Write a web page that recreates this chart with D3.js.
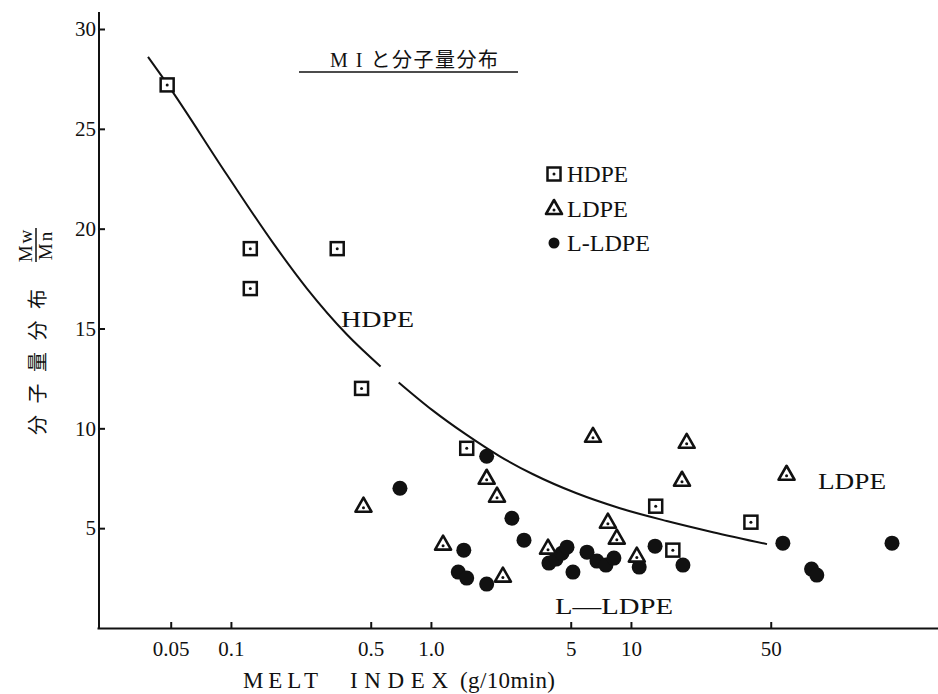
<!DOCTYPE html>
<html>
<head>
<meta charset="utf-8">
<script src="https://cdn.jsdelivr.net/npm/d3@7"></script>
<style>
  body { margin: 0; background: #fff; }
  svg text { font-family: "Liberation Serif", "DejaVu Serif", "Noto Sans CJK JP", serif; fill: #111; }
  .cjk { font-family: "Noto Sans CJK JP", "Noto Sans CJK SC", sans-serif; }
</style>
</head>
<body>
<svg id="chart" width="938" height="694"></svg>
<script>
// melt index (g/10min) and Mw/Mn
var hdpeMI   = [0.048, 0.125, 0.125, 0.34, 0.45, 1.51, 13.3, 16.2, 39.8];
var hdpeMwMn = [27.2, 19.0, 17.0, 19.0, 12.0, 9.0, 6.1, 3.9, 5.3];

var ldpeMI   = [0.46, 1.15, 1.9, 2.14, 2.29, 3.85, 6.46, 7.67, 8.5, 10.7, 19.0, 18.0, 60];
var ldpeMwMn = [6.1, 4.2, 7.5, 6.6, 2.6, 4.0, 9.6, 5.3, 4.5, 3.6, 9.3, 7.4, 7.7];

var lldpeMI   = [0.70, 1.9, 2.54, 2.92, 1.46, 1.37, 1.51, 1.9, 3.89, 4.22, 4.52, 4.79, 5.13,
                 6.03, 6.76, 7.5, 8.22, 11.0, 13.2, 18.2, 57.5, 80, 85, 202];
var lldpeMwMn = [7.0, 8.6, 5.5, 4.4, 3.9, 2.8, 2.5, 2.2, 3.25, 3.45, 3.75, 4.05, 2.8,
                 3.8, 3.35, 3.15, 3.5, 3.05, 4.1, 3.15, 4.25, 2.95, 2.65, 4.25];

// the hand drawn trend line (two pieces, broken near MI 0.6)
var curveMI1 = [0.0385, 0.048, 0.0955, 0.162, 0.24, 0.38, 0.56];
var curveY1  = [28.6, 27.25, 22.7, 19.3, 17.0, 14.7, 13.1];
var curveMI2 = [0.69, 1.02, 1.51, 2.21, 3.24, 5.31, 8.81, 15.1, 25.7, 47.9];
var curveY2  = [12.3, 10.9, 9.67, 8.6, 7.7, 6.76, 6.0, 5.36, 4.8, 4.2];

var xTickValues = [0.05, 0.1, 0.5, 1, 5, 10, 50];
var xTickLabels = ["0.05", "0.1", "0.5", "1.0", "5", "10", "50"];
var yTickValues = [5, 10, 15, 20, 25, 30];

var svg = d3.select("#chart");

var x = d3.scaleLog().domain([0.0214, 343]).range([97, 938]);
var y = d3.scaleLinear().domain([0, 30]).range([628, 29]);

// axes
var xAxis = d3.axisBottom(x)
    .tickValues(xTickValues)
    .tickFormat(function (d, i) { return xTickLabels[i]; })
    .tickSizeInner(-6).tickSizeOuter(0).tickPadding(13);
var gx = svg.append("g").attr("transform", "translate(0,628)").call(xAxis);
gx.select(".domain").attr("stroke", "#111").attr("stroke-width", 2);
gx.selectAll(".tick line").attr("stroke", "#111").attr("stroke-width", 2);
gx.selectAll(".tick text").attr("font-size", 21).attr("fill", "#111")
    .style("font-family", "Liberation Serif");

var yAxis = d3.axisLeft(y)
    .tickValues(yTickValues)
    .tickSizeInner(-6).tickSizeOuter(0).tickPadding(3);
var gy = svg.append("g").attr("transform", "translate(99,0)").call(yAxis);
gy.select(".domain").remove();
gy.append("line").attr("x1", 0).attr("x2", 0).attr("y1", 12).attr("y2", 629)
    .attr("stroke", "#111").attr("stroke-width", 2);
gy.selectAll(".tick line").attr("stroke", "#111").attr("stroke-width", 2);
gy.selectAll(".tick text").attr("font-size", 21).attr("fill", "#111")
    .style("font-family", "Liberation Serif");

// trend line
var line = d3.line()
    .x(function (d) { return x(d[0]); })
    .y(function (d) { return y(d[1]); })
    .curve(d3.curveMonotoneX);

[[curveMI1, curveY1], [curveMI2, curveY2]].forEach(function (c) {
    svg.append("path")
        .datum(d3.zip(c[0], c[1]))
        .attr("d", line)
        .attr("fill", "none")
        .attr("stroke", "#111")
        .attr("stroke-width", 2);
});

// marker drawing
function drawSquare(g) {
    g.append("rect").attr("x", -6.5).attr("y", -6.5).attr("width", 13).attr("height", 13)
        .attr("fill", "#fff").attr("stroke", "#111").attr("stroke-width", 2.5);
    g.append("circle").attr("r", 1.5).attr("fill", "#111");
}
function drawTriangle(g) {
    g.append("path").attr("d", "M0,-8.5L8,5.5L-8,5.5Z")
        .attr("fill", "#fff").attr("stroke", "#111").attr("stroke-width", 2.6)
        .attr("stroke-linejoin", "round");
    g.append("circle").attr("cy", 1.5).attr("r", 1.5).attr("fill", "#111");
}
function drawDot(g) {
    g.append("circle").attr("r", 7.5).attr("fill", "#111");
}

function plot(xs, ys, drawer) {
    svg.append("g").selectAll("g")
        .data(d3.zip(xs, ys))
        .enter().append("g")
        .attr("transform", function (d) { return "translate(" + x(d[0]) + "," + y(d[1]) + ")"; })
        .each(function () { drawer(d3.select(this)); });
}
plot(lldpeMI, lldpeMwMn, drawDot);
plot(ldpeMI, ldpeMwMn, drawTriangle);
plot(hdpeMI, hdpeMwMn, drawSquare);

// title
svg.append("text").attr("x", 330).attr("y", 67)
    .attr("font-size", 20).attr("textLength", 168).attr("lengthAdjust", "spacing")
    .text("M I と分子量分布");
svg.append("line").attr("x1", 299).attr("x2", 518).attr("y1", 72).attr("y2", 72)
    .attr("stroke", "#111").attr("stroke-width", 1.6);

// y axis label: rotated 分子量分布 plus Mw/Mn
svg.append("text").attr("class", "cjk")
    .attr("transform", "translate(45,435) rotate(-90)")
    .attr("font-size", 20).attr("textLength", 146).attr("lengthAdjust", "spacing")
    .text("分子量分布");
var frac = svg.append("g").attr("transform", "translate(36,245) rotate(-90)");
frac.append("text").attr("y", -4).attr("text-anchor", "middle").attr("font-size", 19)
    .attr("letter-spacing", 2).text("Mw");
frac.append("line").attr("x1", -17).attr("x2", 17).attr("stroke", "#111").attr("stroke-width", 1.5);
frac.append("text").attr("y", 16).attr("text-anchor", "middle").attr("font-size", 19)
    .attr("letter-spacing", 2).text("Mn");

// x axis label, three spaced words
var xLabelParts = [["MELT", 243, 75], ["INDEX", 350, 98], ["(g/10min)", 460, 95]];
xLabelParts.forEach(function (p) {
    svg.append("text").attr("x", p[1]).attr("y", 688)
        .attr("font-size", 23).attr("textLength", p[2]).attr("lengthAdjust", "spacing")
        .text(p[0]);
});

// legend
var legendNames = ["HDPE", "LDPE", "L-LDPE"];
var legendWidths = [61, 61, 83];
var legendDraw = [drawSquare, drawTriangle, drawDot];
legendNames.forEach(function (name, i) {
    var ly = 174 + i * 34.5;
    var g = svg.append("g").attr("transform", "translate(554," + ly + ")");
    if (i === 2) {
        g.append("circle").attr("r", 5.5).attr("fill", "#111");
    } else {
        legendDraw[i](g);
    }
    g.append("text").attr("x", 13).attr("y", 8).attr("font-size", 23)
        .attr("textLength", legendWidths[i]).attr("lengthAdjust", "spacingAndGlyphs")
        .text(name);
});

// in-plot labels
var plotLabels = [["HDPE", 341, 327, 73], ["LDPE", 818, 489, 68], ["L\u2014LDPE", 555, 614, 118]];
plotLabels.forEach(function (p) {
    svg.append("text").attr("x", p[1]).attr("y", p[2]).attr("font-size", 24)
        .attr("textLength", p[3]).attr("lengthAdjust", "spacingAndGlyphs")
        .text(p[0]);
});
</script>
</body>
</html>
